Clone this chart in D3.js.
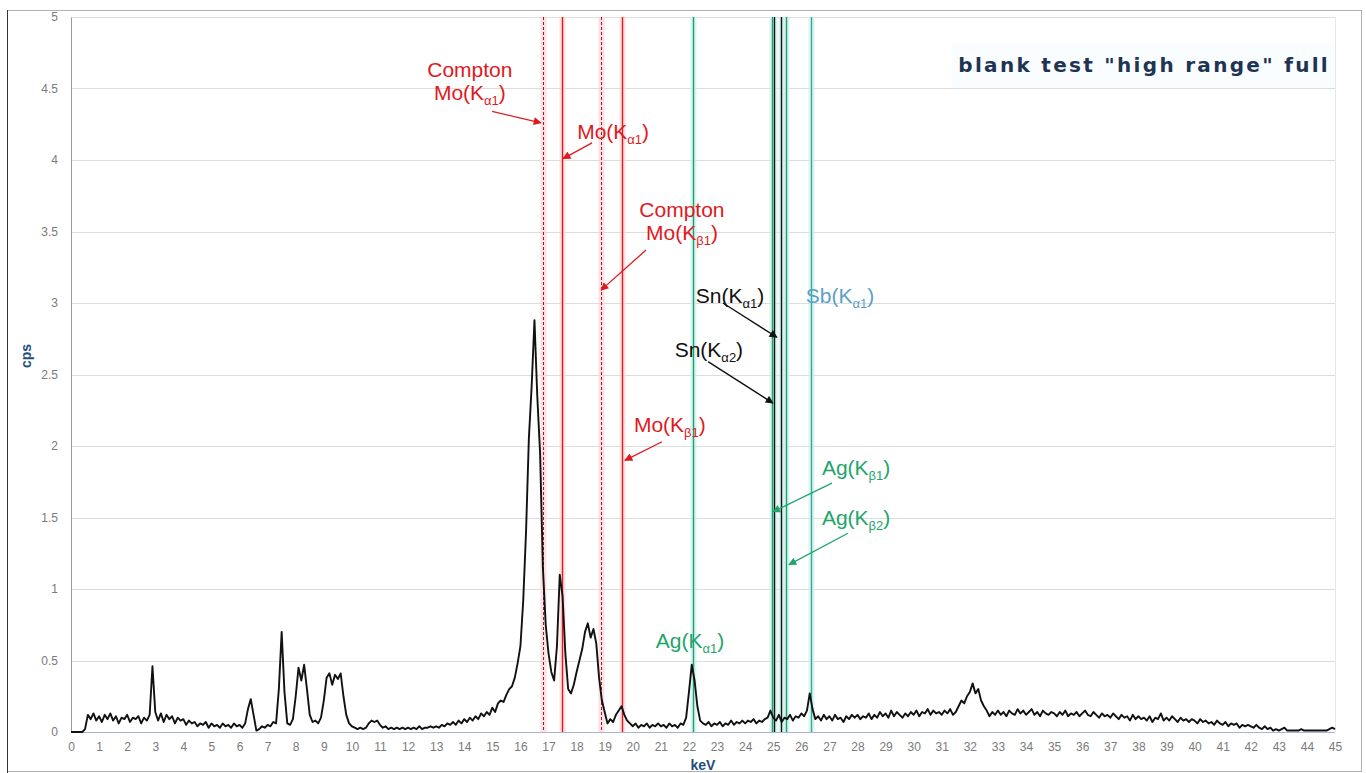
<!DOCTYPE html>
<html lang="en">
<head>
  <meta charset="UTF-8">
  <title>blank test "high range" full</title>
  <script src="https://cdn.jsdelivr.net/npm/d3@7"></script>
  <style>
    body {
      margin: 0;
      background: #fff;
    }

    text {
      font-family: "Liberation Sans", Arial, sans-serif;
    }

    .tick text {
      fill: #7a7a7a;
      font-size: 12px;
    }

    .axis-title {
      font-weight: bold;
      font-size: 14px;
      fill: #1f4e79;
    }

    #title {
      font-family: "DejaVu Sans", sans-serif;
      font-weight: bold;
      font-size: 20px;
      letter-spacing: 2.3px;
      fill: #1f3352;
    }
  </style>
</head>

<body>
  <div id="chart"></div>
  <script>
    // spectrum, every 0.1 keV starting at 0 keV
    const keVStart = 0
    const keVStep = 0.1
    const cps = [
      0, 0, 0, 0, 0, 0.02, 0.12, 0.09, 0.13, 0.08,
      0.11, 0.07, 0.12, 0.09, 0.13, 0.08, 0.11, 0.06, 0.10, 0.09,
      0.12, 0.07, 0.10, 0.09, 0.11, 0.06, 0.10, 0.08, 0.12, 0.46,
      0.14, 0.08, 0.13, 0.07, 0.12, 0.09, 0.11, 0.06, 0.10, 0.08,
      0.09, 0.05, 0.08, 0.06, 0.07, 0.04, 0.06, 0.05, 0.07, 0.03,
      0.06, 0.04, 0.05, 0.03, 0.06, 0.04, 0.05, 0.03, 0.06, 0.04,
      0.05, 0.03, 0.06, 0.16, 0.23, 0.12, 0.01, 0.02, 0.04, 0.03,
      0.05, 0.04, 0.07, 0.06, 0.30, 0.70, 0.28, 0.06, 0.05, 0.09,
      0.25, 0.45, 0.36, 0.47, 0.30, 0.12, 0.07, 0.08, 0.06, 0.10,
      0.22, 0.38, 0.41, 0.33, 0.40, 0.37, 0.41, 0.25, 0.12, 0.06,
      0.04, 0.03, 0.02, 0.03, 0.02, 0.03, 0.06, 0.08, 0.07, 0.08,
      0.05, 0.03, 0.04, 0.02, 0.03, 0.02, 0.03, 0.02, 0.03, 0.02,
      0.03, 0.02, 0.03, 0.02, 0.04, 0.02, 0.03, 0.03, 0.04, 0.03,
      0.04, 0.03, 0.05, 0.04, 0.06, 0.05, 0.07, 0.05, 0.08, 0.06,
      0.09, 0.07, 0.10, 0.08, 0.11, 0.09, 0.13, 0.11, 0.14, 0.12,
      0.17, 0.14, 0.20, 0.22, 0.21, 0.26, 0.30, 0.32, 0.38, 0.48,
      0.60, 0.92, 1.40, 2.05, 2.42, 2.88, 2.35, 1.95, 1.15, 0.75,
      0.55, 0.42, 0.36, 0.60, 1.10, 0.95, 0.55, 0.30, 0.27, 0.33,
      0.42, 0.50, 0.58, 0.70, 0.76, 0.66, 0.72, 0.62, 0.38, 0.22,
      0.14, 0.06, 0.09, 0.07, 0.12, 0.15, 0.18, 0.12, 0.08, 0.06,
      0.04, 0.06, 0.03, 0.05, 0.04, 0.06, 0.03, 0.05, 0.04, 0.06,
      0.04, 0.05, 0.03, 0.06, 0.04, 0.05, 0.03, 0.06, 0.05, 0.10,
      0.28, 0.47, 0.36, 0.18, 0.08, 0.06, 0.05, 0.07, 0.04, 0.06,
      0.05, 0.07, 0.04, 0.06, 0.05, 0.08, 0.05, 0.07, 0.06, 0.08,
      0.06, 0.08, 0.07, 0.09, 0.06, 0.08, 0.07, 0.09, 0.10, 0.15,
      0.10, 0.08, 0.12, 0.07, 0.10, 0.09, 0.12, 0.08, 0.11, 0.10,
      0.13, 0.11, 0.15, 0.27, 0.16, 0.09, 0.11, 0.08, 0.12, 0.09,
      0.11, 0.08, 0.12, 0.09, 0.10, 0.07, 0.11, 0.09, 0.12, 0.10,
      0.12, 0.09, 0.11, 0.10, 0.13, 0.09, 0.12, 0.10, 0.14, 0.11,
      0.13, 0.10, 0.15, 0.11, 0.14, 0.12, 0.10, 0.13, 0.11, 0.14,
      0.12, 0.15, 0.11, 0.14, 0.13, 0.16, 0.12, 0.15, 0.13, 0.14,
      0.12, 0.15, 0.13, 0.16, 0.12, 0.14, 0.18, 0.22, 0.20, 0.25,
      0.28, 0.34, 0.27, 0.30, 0.22, 0.18, 0.15, 0.11, 0.14, 0.12,
      0.15, 0.12, 0.14, 0.11, 0.15, 0.13, 0.12, 0.16, 0.13, 0.15,
      0.12, 0.14, 0.16, 0.12, 0.14, 0.11, 0.15, 0.13, 0.12, 0.14,
      0.13, 0.11, 0.14, 0.12, 0.15, 0.11, 0.13, 0.12, 0.14, 0.11,
      0.13, 0.15, 0.12, 0.11, 0.14, 0.12, 0.10, 0.13, 0.11, 0.12,
      0.10, 0.13, 0.11, 0.09, 0.12, 0.10, 0.11, 0.08, 0.12, 0.09,
      0.11, 0.09, 0.10, 0.08, 0.11, 0.07, 0.10, 0.09, 0.13, 0.08,
      0.10, 0.08, 0.11, 0.09, 0.07, 0.10, 0.08, 0.09, 0.07, 0.09,
      0.08, 0.06, 0.09, 0.07, 0.08, 0.06, 0.07, 0.05, 0.08, 0.06,
      0.05, 0.07, 0.04, 0.06, 0.05, 0.06, 0.03, 0.05, 0.04, 0.05,
      0.04, 0.03, 0.05, 0.03, 0.02, 0.04, 0.02, 0.03, 0.01, 0.02,
      0.01, 0.02, 0.03, 0.01, 0.01, 0.01, 0.01, 0.01, 0.02, 0.01,
      0.01, 0.01, 0.01, 0.01, 0.01, 0.01, 0.01, 0.01, 0.02, 0.03,
      0.02
    ]

    const xTicks = [0, 1, 2, 3, 4, 5, 6, 7, 8, 9, 10, 11, 12, 13, 14, 15, 16, 17, 18, 19, 20, 21, 22,
      23, 24, 25, 26, 27, 28, 29, 30, 31, 32, 33, 34, 35, 36, 37, 38, 39, 40, 41, 42, 43, 44, 45]
    const yTicks = [0, 0.5, 1, 1.5, 2, 2.5, 3, 3.5, 4, 4.5, 5]

    // emission lines (keV)
    const lineKeV = [16.8, 17.48, 18.87, 19.61, 22.16, 24.94, 25.04, 25.27, 25.46, 26.36]
    const lineColor = ['#a0182c', '#e0191e', '#a0182c', '#e0191e', '#1f9e74', '#1f9e74', '#111', '#111', '#1f9e74', '#3aa59a']
    const lineHalo = ['#fbd3d6', '#fbd3d6', '#fbd3d6', '#fbd3d6', '#c8f2ea', '#c8f2ea', '#c8f2ea', '#c8f2ea', '#c8f2ea', '#c8f2ea']
    const lineDashed = [true, false, true, false, false, false, false, false, false, false]

    // annotations: text lines ("main|sub|tail"), anchor (keV, cps of first baseline), arrow from/to
    const labelText = [
      ['Compton', 'Mo(K|α1|)'], ['Mo(K|α1|)'], ['Compton', 'Mo(K|β1|)'], ['Mo(K|β1|)'],
      ['Sn(K|α1|)'], ['Sn(K|α2|)'], ['Sb(K|α1|)'], ['Ag(K|β1|)'], ['Ag(K|β2|)'], ['Ag(K|α1|)']
    ]
    const labelKeV = [14.2, 19.3, 21.75, 21.32, 23.46, 22.71, 27.38, 27.95, 27.95, 22.04]
    const labelCps = [4.58, 4.15, 3.60, 2.10, 3.0, 2.62, 3.0, 1.80, 1.45, 0.59]
    const labelColor = ['#e0191e', '#e0191e', '#e0191e', '#e0191e', '#111', '#111', '#5b9fc9', '#1fa56a', '#1fa56a', '#1fa56a']
    const arrowFrom = [[14.99, 4.34], [18.55, 4.12], [20.47, 3.37], [21.04, 2.03], [23.21, 3.0], [22.68, 2.59],
      null, [27.09, 1.74], [27.66, 1.39], null]
    const arrowTo = [[16.73, 4.26], [17.52, 4.01], [18.87, 3.09], [19.72, 1.90], [25.13, 2.76], [24.99, 2.30],
      null, [24.99, 1.54], [25.56, 1.17], null]

    const width = 1366
    const height = 773
    const margin = { top: 17, right: 31, bottom: 41, left: 71 }

    const xScale = d3.scaleLinear()
      .domain([0, 45])
      .range([margin.left, width - margin.right])

    const yScale = d3.scaleLinear()
      .domain([0, 5])
      .range([height - margin.bottom, margin.top])

    const svg = d3.select('#chart')
      .append('svg')
      .attr('width', width)
      .attr('height', height)

    // outer frame
    svg.append('rect')
      .attr('x', 7.5).attr('y', 10.5)
      .attr('width', width - 12).attr('height', height - 12)
      .attr('fill', '#fff')
      .attr('stroke', '#b0b0b0')
    svg.append('line')
      .attr('x1', 7.5).attr('x2', 7.5).attr('y1', 10).attr('y2', height)
      .attr('stroke', '#333')

    // title
    svg.append('rect')
      .attr('x', 952).attr('y', 43).attr('width', 383).attr('height', 45)
      .attr('fill', '#fafdff')
    svg.append('text')
      .attr('id', 'title')
      .attr('x', 1330)
      .attr('y', 72)
      .attr('text-anchor', 'end')
      .text('blank test "high range" full')

    // grid
    svg.append('g')
      .selectAll('line')
      .data(yTicks.filter(d => d > 0))
      .enter()
      .append('line')
      .attr('x1', margin.left)
      .attr('x2', width - margin.right)
      .attr('y1', d => Math.round(yScale(d)) + 0.5)
      .attr('y2', d => Math.round(yScale(d)) + 0.5)
      .attr('stroke', '#dcdcdc')

    svg.append('line')
      .attr('x1', width - margin.right + 0.5).attr('x2', width - margin.right + 0.5)
      .attr('y1', margin.top).attr('y2', height - margin.bottom)
      .attr('stroke', '#e6e6e6')

    const xAxis = d3.axisBottom(xScale).tickValues(xTicks).tickSize(0).tickPadding(10)
    const yAxis = d3.axisLeft(yScale).tickValues(yTicks).tickSize(0).tickPadding(13)
      .tickFormat(d3.format('~g'))

    svg.append('g')
      .attr('transform', `translate(0, ${height - margin.bottom})`)
      .call(xAxis)
      .call(g => g.select('.domain').remove())

    svg.append('g')
      .attr('transform', `translate(${margin.left}, 0)`)
      .call(yAxis)
      .call(g => g.select('.domain').attr('stroke', '#9a9a9a'))

    svg.append('line')
      .attr('x1', margin.left).attr('x2', width - margin.right)
      .attr('y1', yScale(0) + 0.5).attr('y2', yScale(0) + 0.5)
      .attr('stroke', '#aab4d4')

    // emission lines with halo
    const lines = svg.append('g')
    lineKeV.forEach((k, i) => {
      const x = Math.round(xScale(k)) + 0.5
      lines.append('line')
        .attr('x1', x).attr('x2', x)
        .attr('y1', margin.top).attr('y2', height - margin.bottom)
        .attr('stroke', lineHalo[i])
        .attr('stroke-width', 6)
        .attr('opacity', 0.7)
    })
    lineKeV.forEach((k, i) => {
      const x = Math.round(xScale(k)) + 0.5
      lines.append('line')
        .attr('x1', x).attr('x2', x)
        .attr('y1', margin.top).attr('y2', height - margin.bottom)
        .attr('stroke', lineColor[i])
        .attr('stroke-width', lineDashed[i] ? 1 : 1.4)
        .attr('stroke-dasharray', lineDashed[i] ? '3,2' : null)
    })

    // spectrum
    const line = d3.line()
      .x((d, i) => xScale(keVStart + i * keVStep))
      .y(d => yScale(d))

    svg.append('path')
      .datum(cps)
      .attr('d', line)
      .attr('fill', 'none')
      .attr('stroke', '#111')
      .attr('stroke-width', 1.9)
      .attr('stroke-linejoin', 'round')

    // arrow markers
    const defs = svg.append('defs')
    const markerColors = Array.from(new Set(labelColor))
    markerColors.forEach((c, i) => {
      defs.append('marker')
        .attr('id', 'arrow' + i)
        .attr('viewBox', '0 0 10 10')
        .attr('refX', 9).attr('refY', 5)
        .attr('markerUnits', 'userSpaceOnUse')
        .attr('markerWidth', 9).attr('markerHeight', 8)
        .attr('orient', 'auto')
        .append('path')
        .attr('d', 'M0,0 L10,5 L0,10 z')
        .attr('fill', c)
    })

    // labels and arrows
    const notes = svg.append('g')
    labelText.forEach((rows, i) => {
      const t = notes.append('text')
        .attr('x', xScale(labelKeV[i]))
        .attr('y', yScale(labelCps[i]))
        .attr('text-anchor', 'middle')
        .attr('font-size', 21)
        .attr('fill', labelColor[i])
      rows.forEach((row, r) => {
        const parts = row.split('|')
        t.append('tspan')
          .attr('x', xScale(labelKeV[i]))
          .attr('dy', r === 0 ? 0 : 23)
          .text(parts[0])
        if (parts.length > 1) {
          t.append('tspan').attr('dy', 5).attr('font-size', 13).text(parts[1])
          t.append('tspan').attr('dy', -5).text(parts[2])
        }
      })

      if (arrowFrom[i]) {
        notes.append('line')
          .attr('x1', xScale(arrowFrom[i][0])).attr('y1', yScale(arrowFrom[i][1]))
          .attr('x2', xScale(arrowTo[i][0])).attr('y2', yScale(arrowTo[i][1]))
          .attr('stroke', labelColor[i])
          .attr('stroke-width', 1.3)
          .attr('marker-end', `url(#arrow${markerColors.indexOf(labelColor[i])})`)
      }
    })

    // axis titles
    svg.append('text')
      .attr('class', 'axis-title')
      .attr('transform', `translate(31, ${yScale(2.63)}) rotate(-90)`)
      .attr('text-anchor', 'middle')
      .text('cps')

    svg.append('text')
      .attr('class', 'axis-title')
      .attr('x', xScale(22.5))
      .attr('y', 770)
      .attr('text-anchor', 'middle')
      .text('keV')
  </script>
</body>

</html>
